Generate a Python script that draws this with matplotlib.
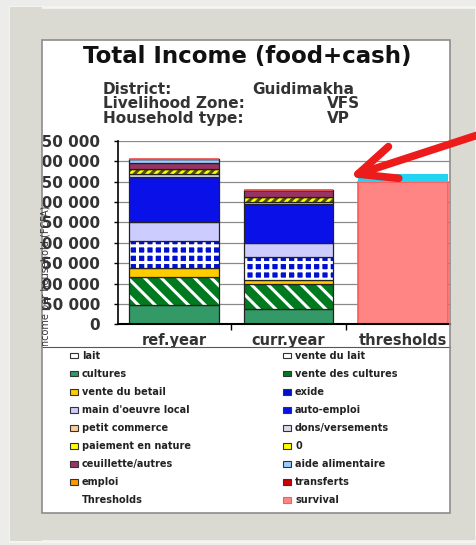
import numpy as np
import matplotlib
matplotlib.use("Agg")
import matplotlib.pyplot as plt
from matplotlib.patches import Rectangle, FancyArrowPatch
from matplotlib.transforms import Bbox, TransformedBbox

W, H = 477, 545

categories = ["ref.year", "curr.year", "thresholds"]

series_names = ["lait", "vente du lait", "cultures", "vente des cultures",
                "vente du betail", "exide", "main d'oeuvre local", "auto-emploi",
                "petit commerce", "dons/versements", "paiement en nature", "0",
                "ceuillette/autres", "aide alimentaire", "emploi", "transferts",
                "survival", "livelihoods protection"]
lait = [0, 0, 0]
vente_du_lait = [0, 0, 0]
cultures = [47300, 36700, 0]
vente_des_cultures = [69300, 61200, 0]
vente_du_betail = [20400, 10600, 0]
exide = [67700, 57100, 0]
main_oeuvre = [44900, 34200, 0]
auto_emploi = [111600, 94600, 0]
petit_commerce = [0, 0, 0]
dons_versements = [6500, 5700, 0]
paiement_nature = [14000, 12200, 0]
zero = [0, 0, 0]
ceuillette = [14700, 18000, 0]
aide_alimentaire = [9800, 0, 0]
emploi = [0, 0, 0]
transferts = [0, 0, 0]
survival = [0, 0, 349100]
protection = [0, 0, 20400]

series_values = [lait, vente_du_lait, cultures, vente_des_cultures, vente_du_betail,
                 exide, main_oeuvre, auto_emploi, petit_commerce, dons_versements,
                 paiement_nature, zero, ceuillette, aide_alimentaire, emploi,
                 transferts, survival, protection]

# face, hatch colour, hatch
styles = [
    ("#ffffff", None, None),
    ("#ffffff", None, None),
    ("#339966", None, None),
    ("#007a1e", "#ffffff", "\\\\"),
    ("#ffcc00", None, None),
    ("#0010d0", "#ffffff", "++"),
    ("#ccccff", None, None),
    ("#0a10e8", None, None),
    ("#ffcc99", None, None),
    ("#dcdce8", None, None),
    ("#ffff00", "#555500", "////"),
    ("#ffff00", None, None),
    ("#993366", None, None),
    ("#99ccff", None, None),
    ("#ff9900", None, None),
    ("#cc0000", None, None),
    ("#ff8585", None, None),
    ("#22d4f2", None, None),
]

plt.rcParams["hatch.linewidth"] = 2.2


def px(x, y):
    return (x / W, 1 - y / H)


fig = plt.figure(figsize=(W / 100, H / 100), dpi=100)
fig.patch.set_facecolor("#ececea")

# frame and white panel
fig.add_artist(Rectangle(px(10, 541), 466 / W, 534 / H, transform=fig.transFigure,
                         facecolor="#dadad3", edgecolor="#f4f4f0", lw=2, zorder=-3))
fig.add_artist(Rectangle(px(42, 513), 408 / W, 473 / H, transform=fig.transFigure,
                         facecolor="white", edgecolor="none", zorder=-2))

ax = fig.add_axes([118 / W, 1 - 324.3 / H, (450 - 118) / W, (324.3 - 140.7) / H])
ax.set_facecolor("none")

x = np.arange(len(categories))
bottom = np.zeros(len(categories))
for name, vals, (face, hcol, hatch) in zip(series_names, series_values, styles):
    vals = np.array(vals, dtype=float)
    if name == "survival":
        ax.bar(x, vals, 0.78, bottom=bottom, color=face, edgecolor="#ff5a5a",
               lw=1.2, label=name)
    elif name == "livelihoods protection":
        ax.bar(x, vals, 0.78, bottom=bottom, color=face, edgecolor="none",
               lw=0, label=name)
    elif hatch:
        ax.bar(x, vals, 0.78, bottom=bottom, color=face, edgecolor=hcol,
               hatch=hatch, lw=0, label=name)
        ax.bar(x, vals, 0.78, bottom=bottom, fill=False, edgecolor="#222222", lw=0.9)
    else:
        ax.bar(x, vals, 0.78, bottom=bottom, color=face, edgecolor="#222222",
               lw=0.9, label=name)
    bottom += vals

ax.set_xlim(-0.489, 2.41)
ax.set_ylim(0, 450000)
ax.set_yticks(np.arange(0, 450001, 50000))
ax.set_yticklabels(["0"] + [f"{v:,}".replace(",", " ") for v in range(50000, 450001, 50000)])
ax.set_xticks(x)
ax.set_xticklabels(categories)
ax.set_xticks([0.5, 1.5], minor=True)
ax.tick_params(axis="x", which="major", length=0, pad=6, labelsize=10.5,
               labelcolor="#333333")
ax.tick_params(axis="x", which="minor", length=4, width=1, direction="out")
ax.tick_params(axis="y", length=3, width=1, pad=10, labelsize=11,
               labelcolor="#333333")
for lab in ax.get_xticklabels() + ax.get_yticklabels():
    lab.set_fontweight("bold")
ax.grid(axis="y", color="#8a8a8a", lw=0.9)
ax.set_axisbelow(True)
for s in ["top", "right"]:
    ax.spines[s].set_visible(False)
ax.spines["left"].set_linewidth(1.2)
ax.spines["bottom"].set_linewidth(1.5)

# y label, clipped at the chart area border
ylab = fig.text(46 / W, 1 - 349 / H, "Income per household (FCFA)", rotation=90,
                ha="center", va="bottom", fontsize=7, color="#333333")
ylab.set_clip_on(True)
ylab.set_clip_box(TransformedBbox(Bbox.from_extents(0, 1 - 346 / H, 1, 1), fig.transFigure))
fig.add_artist(plt.Line2D([42 / W, 450 / W], [1 - 346.5 / H] * 2, transform=fig.transFigure,
                          color="#555555", lw=0.8))

# titles
fig.text(*px(247, 56), "Total Income (food+cash)", ha="center", va="center",
         fontsize=16.5, fontweight="bold", color="#111111")
for i, (k, v, vx) in enumerate([("District:", "Guidimakha", 252),
                                ("Livelihood Zone:", "VFS", 327),
                                ("Household type:", "VP", 327)]):
    y = 89 + i * 14.7
    fig.text(*px(103, y), k, ha="left", va="center", fontsize=11,
             fontweight="bold", color="#333333")
    fig.text(*px(vx, y), v, ha="left", va="center", fontsize=11,
             fontweight="bold", color="#333333")

# legend, two columns
blank = Rectangle((0, 0), 1, 1, facecolor="none", edgecolor="none")
left_col = ["lait", "cultures", "vente du betail", "main d'oeuvre local", "petit commerce",
            "paiement en nature", "ceuillette/autres", "emploi", "Thresholds"]
right_col = ["vente du lait", "vente des cultures", "exide", "auto-emploi",
             "dons/versements", "0", "aide alimentaire", "transferts", "survival"]


def proxy(name):
    if name == "Thresholds":
        return blank
    face, hcol, hatch = styles[series_names.index(name)]
    edge = "#ff5a5a" if name == "survival" else "#333333"
    return Rectangle((0, 0), 1, 1, facecolor=face, edgecolor=edge, lw=0.8)


for col, xpos in [(left_col, 67), (right_col, 280)]:
    leg = fig.legend([proxy(n) for n in col], col, loc="upper left",
                     bbox_to_anchor=px(xpos, 348), bbox_transform=fig.transFigure,
                     frameon=False, prop={"size": 7, "weight": "bold"},
                     handlelength=0.85, handleheight=0.55, handletextpad=0.4,
                     labelspacing=0.83, borderpad=0.3, borderaxespad=0)
    for t in leg.get_texts():
        t.set_color("#222222")

# cover overflow of y tick labels with the frame
fig.add_artist(Rectangle(px(10, 541), 32 / W, 534 / H, transform=fig.transFigure,
                         facecolor="#dadad3", edgecolor="none", zorder=2))
fig.add_artist(Rectangle(px(42, 513), 408 / W, 473 / H, transform=fig.transFigure,
                         facecolor="none", edgecolor="#8c8c8c", lw=1.2, zorder=2.5))

# red arrow
arr = FancyArrowPatch(px(490, 131), px(349, 177), transform=fig.transFigure,
                      arrowstyle="->,head_length=27,head_width=12",
                      mutation_scale=1, color="#ee1b1b", lw=5.5,
                      shrinkA=0, shrinkB=0, zorder=4)
arr.set_capstyle("round")
arr.set_joinstyle("round")
fig.add_artist(arr)

fig.savefig("out.png", dpi=100)
